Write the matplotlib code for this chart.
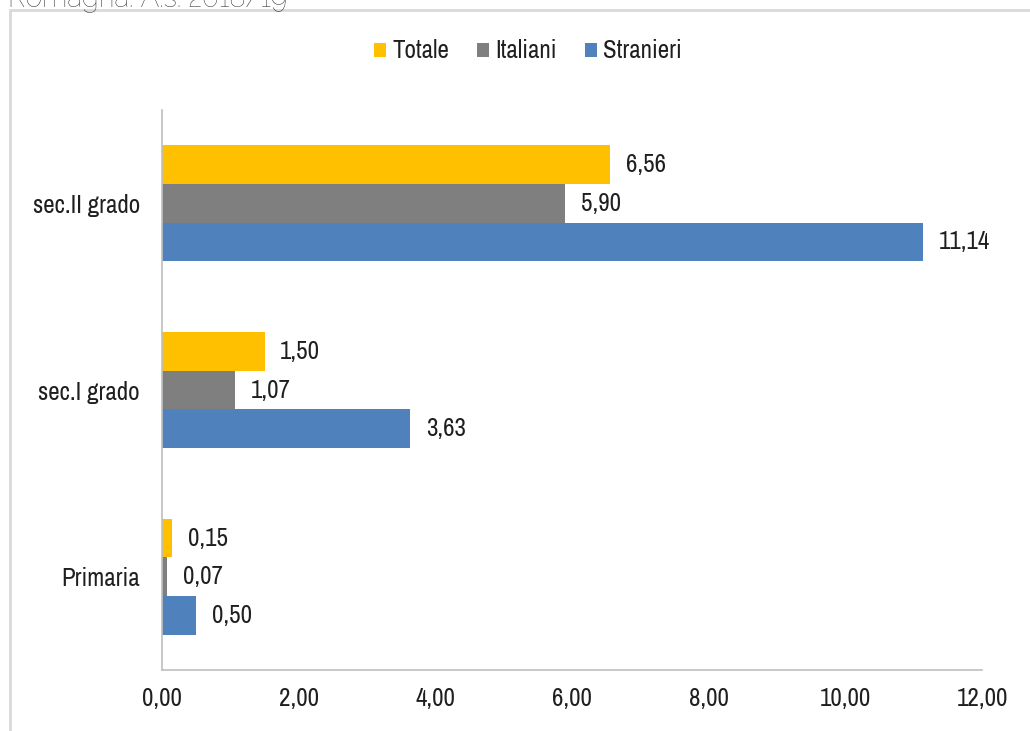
import matplotlib.pyplot as plt
import numpy as np
from matplotlib.patches import Rectangle

plt.rcParams['font.family'] = ['Archivo Narrow', 'DejaVu Sans']

categories = ["Primaria", "sec.I grado", "sec.II grado"]
series = ["Totale", "Italiani", "Stranieri"]
totale = [0.15, 1.50, 6.56]
italiani = [0.07, 1.07, 5.90]
stranieri = [0.50, 3.63, 11.14]
xticks = [0, 2, 4, 6, 8, 10, 12]

colors = ["#ffc000", "#7f7f7f", "#4f81bd"]
values = [totale, italiani, stranieri]
txt = "#1f1f1f"

fig = plt.figure(figsize=(10.3, 7.31), dpi=100)
ax = fig.add_axes([0.1573, 0.0834, 0.7961, 0.7661])

y = np.arange(len(categories))
h = 0.207
offsets = [h, 0, -h]
for i, name in enumerate(series):
    bars = ax.barh(y + offsets[i], values[i], height=h, color=colors[i], label=name)
    for b, v in zip(bars, values[i]):
        ax.text(v + 0.23, b.get_y() + b.get_height() / 2, f"{v:.2f}".replace(".", ","),
                va="center", ha="left", fontsize=18, color=txt)

ax.set_xlim(0, 12)
ax.set_ylim(-0.5, 2.5)
ax.set_xticks(xticks)
ax.set_xticklabels([f"{t:.2f}".replace(".", ",") for t in xticks], fontsize=18, color=txt)
ax.set_yticks(y)
ax.set_yticklabels(categories, fontsize=18, color=txt)
ax.tick_params(axis="x", length=0, pad=12)
ax.tick_params(axis="y", length=0, pad=16)
for s in ["top", "right"]:
    ax.spines[s].set_visible(False)
for s in ["left", "bottom"]:
    ax.spines[s].set_color("#bfbfbf")
    ax.spines[s].set_linewidth(1.2)

ax.legend(loc="center", bbox_to_anchor=(528 / 1030, 1 - 51 / 731), bbox_transform=fig.transFigure,
          ncol=3, frameon=False, fontsize=18, handlelength=0.5, handleheight=0.5,
          handletextpad=0.25, columnspacing=1.1, labelcolor=txt)

# outer frame and heading line
fig.patches.append(Rectangle((10 / 1030, -0.05), 1.1, 1 - 10 / 731 + 0.05, transform=fig.transFigure,
                             fill=False, edgecolor="#d9d9d9", linewidth=2))
fig.text(8 / 1030, 1 - 6 / 731, "Romagna. A.s. 2018/19", fontsize=20, color="#333333",
         family=["Raleway", "Lato", "DejaVu Sans"], va="baseline", ha="left")

fig.savefig("out.png", dpi=100)
